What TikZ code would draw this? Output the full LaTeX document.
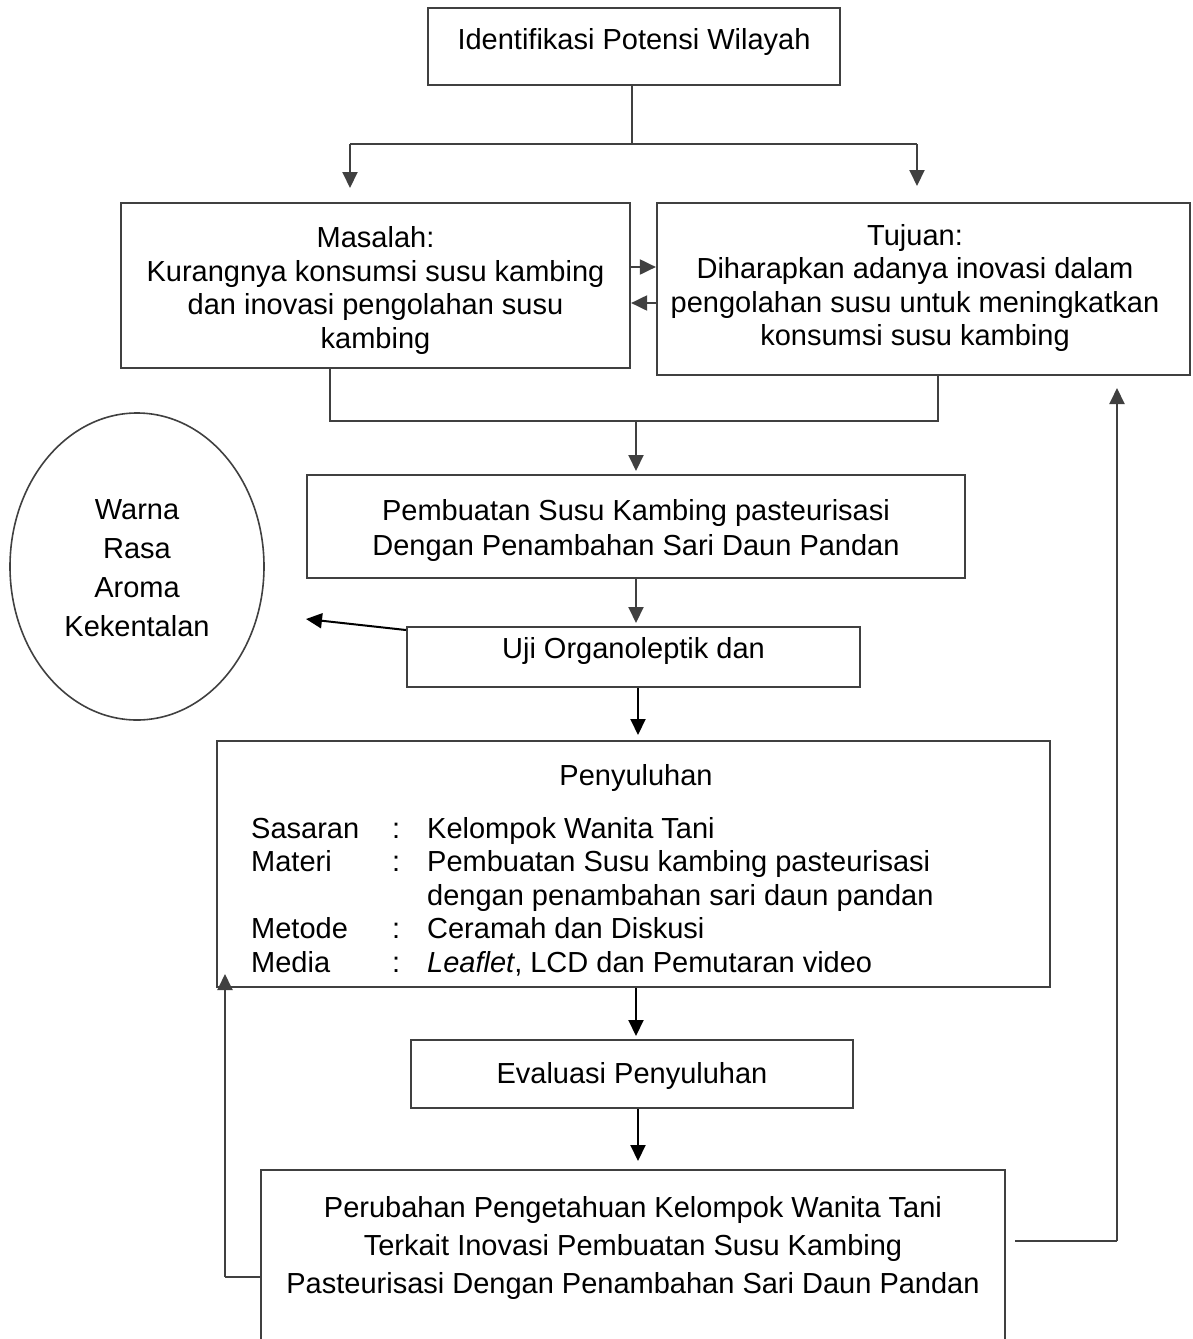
\documentclass[tikz,border=0pt]{standalone}
\usepackage{fontspec}
\setmainfont{Liberation Sans}
\usetikzlibrary{arrows.meta,shapes.geometric}
\definecolor{lnc}{HTML}{404040}
\tikzset{
  box/.style={draw=lnc,line width=2.2pt,inner sep=0pt,rectangle},
  txt/.style={inner sep=0pt,align=center,font=\fontsize{29}{33.5}\selectfont},
  conn/.style={draw=lnc,line width=2pt},
  arr/.style={draw=lnc,line width=2pt,-{Triangle[length=16pt,width=15pt]},fill=lnc},
  barr/.style={draw=black,line width=2pt,-{Triangle[length=16pt,width=15pt]},fill=black},
}
\begin{document}
\begin{tikzpicture}[x=1pt,y=-1pt]
\useasboundingbox (0,0) rectangle (1192,1339);
\clip (0,0) rectangle (1192,1339);
% boxes
\node[box,minimum width=412pt,minimum height=77pt] (top) at (634,46.5) {};
\node[box,minimum width=509pt,minimum height=165pt] (mas) at (375.5,285.5) {};
\node[box,minimum width=533pt,minimum height=172pt] (tuj) at (923.5,289) {};
\node[box,minimum width=658pt,minimum height=103pt] (pem) at (636,526.5) {};
\node[box,minimum width=453pt,minimum height=60pt] (uji) at (633.5,657) {};
\node[draw=lnc,line width=1.6pt,ellipse,inner sep=0pt,minimum width=254pt,minimum height=307pt] (ell) at (137,566.5) {};
\node[box,minimum width=833pt,minimum height=246pt] (pen) at (633.5,864) {};
\node[box,minimum width=442pt,minimum height=68pt] (eva) at (632,1074) {};
\node[box,minimum width=744pt,minimum height=180pt] (per) at (633,1260) {};
% texts
\node[txt] (ttop) at (634,42) {Identifikasi Potensi Wilayah};
\node[txt] (tmas) at (375.5,290.5) {Masalah:\\Kurangnya konsumsi susu kambing\\dan inovasi pengolahan susu\\kambing};
\node[txt] (ttuj) at (915,288) {Tujuan:\\Diharapkan adanya inovasi dalam\\pengolahan susu untuk meningkatkan\\konsumsi susu kambing};
\node[txt,font=\fontsize{29}{35}\selectfont] (tpem) at (636,530.5) {Pembuatan Susu Kambing pasteurisasi\\Dengan Penambahan Sari Daun Pandan};
\node[txt] (tuji) at (633.5,651) {Uji Organoleptik dan};
\node[txt,font=\fontsize{29}{39}\selectfont] (tell) at (137,568) {Warna\\Rasa\\Aroma\\Kekentalan};
\node[txt] (tpen) at (636,778) {Penyuluhan};
\node[txt,align=left,anchor=north west] (tpentab) at (251,817) {%
\makebox[141pt][l]{Sasaran}\makebox[35pt][l]{:}Kelompok Wanita Tani\\
\makebox[141pt][l]{Materi}\makebox[35pt][l]{:}Pembuatan Susu kambing pasteurisasi\\
\makebox[141pt][l]{}\makebox[35pt][l]{}dengan penambahan sari daun pandan\\
\makebox[141pt][l]{Metode}\makebox[35pt][l]{:}Ceramah dan Diskusi\\
\makebox[141pt][l]{Media}\makebox[35pt][l]{:}\textit{Leaflet}, LCD dan Pemutaran video};
\node[txt] (teva) at (632,1076) {Evaluasi Penyuluhan};
\node[txt,font=\fontsize{29}{38}\selectfont] (tper) at (633,1248) {Perubahan Pengetahuan Kelompok Wanita Tani\\Terkait Inovasi Pembuatan Susu Kambing\\Pasteurisasi Dengan Penambahan Sari Daun Pandan};
% connectors
\coordinate (s1) at (632,144);
\coordinate (l1) at (350,144);
\coordinate (r1) at (917,144);
\coordinate (l1e) at (350,188);
\coordinate (r1e) at (917,186);
\draw[conn] (top.south -| s1) -- (s1);
\draw[conn] (l1) -- (r1);
\draw[arr] (l1) -- (l1e);
\draw[arr] (r1) -- (r1e);
\draw[arr] (mas.east |- 0,267) -- (tuj.west |- 0,267);
\draw[arr] (tuj.west |- 0,303) -- (mas.east |- 0,303);
\coordinate (jm) at (330,421);
\coordinate (jt) at (938,421);
\coordinate (jc) at (636,421);
\draw[conn] (mas.south -| jm) -- (jm) -- (jt) -- (tuj.south -| jt);
\draw[arr] (jc) -- (636,471);
\draw[arr] (pem.south -| 636,0) -- (636,623);
\draw[barr] (uji.west |- 0,630) -- (306,619);
\draw[barr] (uji.south -| 638,0) -- (638,735);
\draw[barr] (pen.south -| 636,0) -- (636,1036);
\draw[barr] (eva.south -| 638,0) -- (638,1161);
\coordinate (fl) at (225,1277);
\coordinate (fle) at (225,974);
\draw[conn] (per.west |- fl) -- (fl);
\draw[arr] (fl) -- (fle);
\coordinate (frs) at (1015,1241);
\coordinate (fr) at (1117,1241);
\coordinate (fre) at (1117,388);
\draw[conn] (frs) -- (fr);
\draw[arr] (fr) -- (fre);
\end{tikzpicture}
\end{document}
